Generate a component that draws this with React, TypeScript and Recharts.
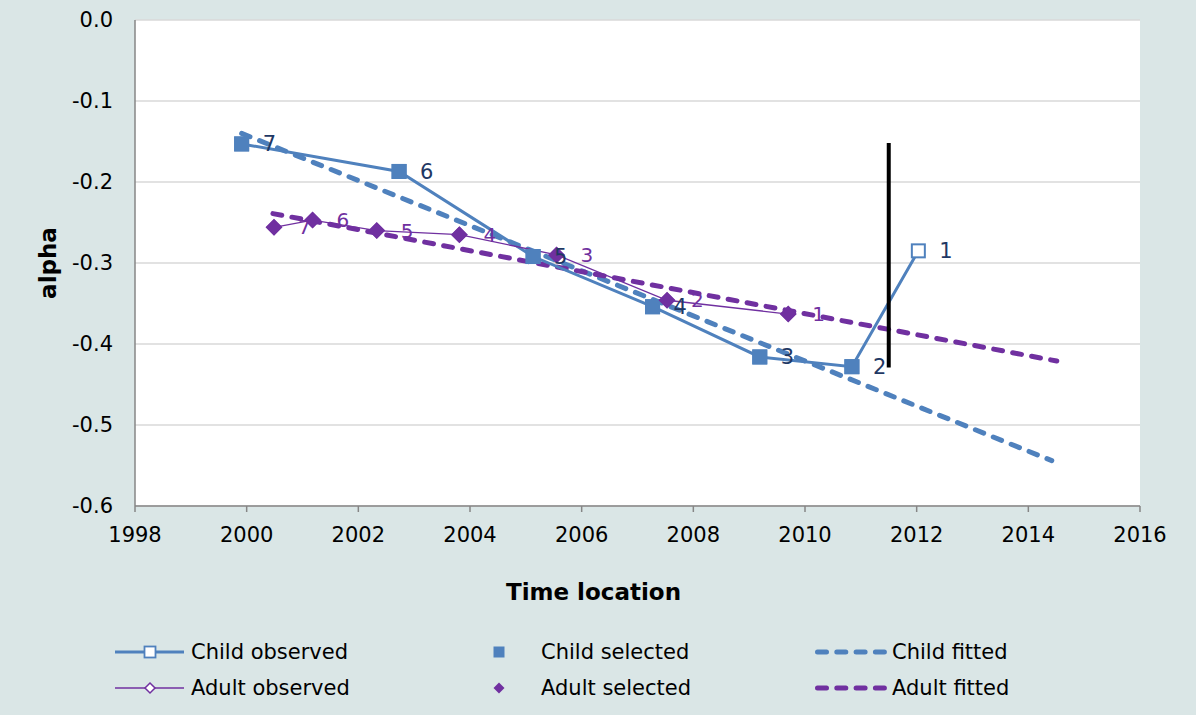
import React from "react";
import {
  LineChart,
  Line,
  XAxis,
  YAxis,
  CartesianGrid,
  LabelList,
} from "recharts";

// point ids, oldest (7) to newest (1)
const pointLabels = ["7", "6", "5", "4", "3", "2", "1"];

const childYears = [1999.91, 2002.73, 2005.13, 2007.27, 2009.19, 2010.84, 2012.03];
const childAlpha = [-0.153, -0.187, -0.292, -0.354, -0.416, -0.428, -0.285];
const childSelected = [true, true, true, true, true, true, false];

const adultYears = [2000.49, 2001.18, 2002.33, 2003.81, 2005.55, 2007.53, 2009.7];
const adultAlpha = [-0.256, -0.247, -0.26, -0.265, -0.29, -0.346, -0.363];
const adultSelected = [true, true, true, true, true, true, true];

const childFitYears = [1999.91, 2014.42];
const childFitAlpha = [-0.14, -0.544];
const adultFitYears = [2000.47, 2014.51];
const adultFitAlpha = [-0.239, -0.421];

const cutoffYears = [2011.5, 2011.5];
const cutoffAlpha = [-0.152, -0.429];

const xTicks = [1998, 2000, 2002, 2004, 2006, 2008, 2010, 2012, 2014, 2016];
const yTicks = [0, -0.1, -0.2, -0.3, -0.4, -0.5, -0.6];

const BLUE = "#4f81bd";
const NAVY = "#1f3864";
const PURPLE = "#7030a0";
const BG = "#dae6e6";
const FONT = "'DejaVu Sans', Verdana, sans-serif";

const toPoints = (xs: number[], ys: number[], labels?: string[]) =>
  xs.map((x, i) => ({ x, y: ys[i], label: labels ? labels[i] : "" }));

const childObserved = toPoints(childYears, childAlpha, pointLabels);
const childSel = childObserved.filter((_, i) => childSelected[i]);
const adultObserved = toPoints(adultYears, adultAlpha, pointLabels);
const adultSel = adultObserved.filter((_, i) => adultSelected[i]);
const childFit = toPoints(childFitYears, childFitAlpha);
const adultFit = toPoints(adultFitYears, adultFitAlpha);
const cutoff = toPoints(cutoffYears, cutoffAlpha);

const squareDot = (size: number, fill: string, stroke: string, sw: number) => (p: any) => (
  <rect
    key={`sq-${p.index}`}
    x={p.cx - size / 2}
    y={p.cy - size / 2}
    width={size}
    height={size}
    fill={fill}
    stroke={stroke}
    strokeWidth={sw}
  />
);

const diamondDot = (r: number, fill: string, stroke: string, sw: number) => (p: any) => (
  <polygon
    key={`dm-${p.index}`}
    points={`${p.cx},${p.cy - r} ${p.cx + r},${p.cy} ${p.cx},${p.cy + r} ${p.cx - r},${p.cy}`}
    fill={fill}
    stroke={stroke}
    strokeWidth={sw}
  />
);

const legendText: React.CSSProperties = { fontSize: 21, color: "#000", whiteSpace: "nowrap" };

function LegendItem({ left, top, icon, text, textLeft }: any) {
  return (
    <div style={{ position: "absolute", left, top: top - 12, height: 24, width: 300 }}>
      <svg width={90} height={24} style={{ position: "absolute", left: 0, top: 0 }}>
        {icon}
      </svg>
      <div style={{ ...legendText, position: "absolute", left: textLeft, top: 0, lineHeight: "24px" }}>
        {text}
      </div>
    </div>
  );
}

export default function App() {
  return (
    <div
      style={{
        position: "absolute",
        left: 0,
        top: 0,
        width: 1196,
        height: 715,
        background: BG,
        fontFamily: FONT,
      }}
    >
      <LineChart
        width={1196}
        height={715}
        margin={{ top: 20, right: 56, bottom: 114, left: 0 }}
        style={{ fontFamily: FONT }}
      >
        <CartesianGrid vertical={false} stroke="#d9d9d9" strokeWidth={1.5} fill="#ffffff" />
        <XAxis
          type="number"
          dataKey="x"
          domain={[1998, 2016]}
          ticks={xTicks}
          allowDataOverflow
          height={95}
          tick={{ fill: "#000", fontSize: 21 }}
          tickSize={6}
          tickMargin={15}
          stroke="#868686"
          strokeWidth={1.5}
          label={{
            value: "Time location",
            position: "insideBottom",
            offset: 1,
            dx: -44,
            style: { fontSize: 23, fontWeight: "bold", fill: "#000" },
          }}
        />
        <YAxis
          type="number"
          dataKey="y"
          domain={[-0.6, 0]}
          ticks={yTicks}
          width={135}
          tickLine={false}
          tickSize={0}
          tickMargin={22}
          tick={{ fill: "#000", fontSize: 21 }}
          tickFormatter={(v: number) => v.toFixed(1)}
          stroke="#868686"
          strokeWidth={1.5}
          label={{
            value: "alpha",
            angle: -90,
            position: "insideLeft",
            offset: 48,
            style: { fontSize: 23, fontWeight: "bold", fill: "#000", textAnchor: "middle" },
          }}
        />

        <Line
          data={childFit}
          dataKey="y"
          stroke={BLUE}
          strokeWidth={5}
          strokeDasharray="9 10.3"
          strokeLinecap="round"
          dot={false}
          isAnimationActive={false}
        />
        <Line
          data={adultFit}
          dataKey="y"
          stroke={PURPLE}
          strokeWidth={5}
          strokeDasharray="9 10.3"
          strokeLinecap="round"
          dot={false}
          isAnimationActive={false}
        />

        <Line
          data={childObserved}
          dataKey="y"
          stroke={BLUE}
          strokeWidth={3}
          dot={squareDot(13, "#ffffff", BLUE, 2)}
          isAnimationActive={false}
        >
          <LabelList dataKey="label" position="right" offset={21} fill={NAVY} fontSize={21} />
        </Line>
        <Line
          data={childSel}
          dataKey="y"
          stroke="none"
          strokeWidth={0}
          dot={squareDot(15, BLUE, BLUE, 0)}
          isAnimationActive={false}
        />

        <Line
          data={adultObserved}
          dataKey="y"
          stroke={PURPLE}
          strokeWidth={1.3}
          dot={diamondDot(7, "#ffffff", PURPLE, 1.5)}
          isAnimationActive={false}
        >
          <LabelList dataKey="label" position="right" offset={24} fill={PURPLE} fontSize={20} />
        </Line>
        <Line
          data={adultSel}
          dataKey="y"
          stroke="none"
          strokeWidth={0}
          dot={diamondDot(8.5, PURPLE, PURPLE, 0)}
          isAnimationActive={false}
        />

        <Line
          data={cutoff}
          dataKey="y"
          stroke="#000000"
          strokeWidth={4}
          dot={false}
          isAnimationActive={false}
        />
      </LineChart>

      <LegendItem
        left={113}
        top={652}
        textLeft={78}
        text="Child observed"
        icon={
          <g>
            <line x1={2} y1={12} x2={71} y2={12} stroke={BLUE} strokeWidth={3} />
            <rect x={31.5} y={6.5} width={11} height={11} fill="#fff" stroke={BLUE} strokeWidth={1.8} />
          </g>
        }
      />
      <LegendItem
        left={113}
        top={688}
        textLeft={78}
        text="Adult observed"
        icon={
          <g>
            <line x1={2} y1={12} x2={71} y2={12} stroke={PURPLE} strokeWidth={1.3} />
            <polygon points="37,7 42,12 37,17 32,12" fill="#fff" stroke={PURPLE} strokeWidth={1.5} />
          </g>
        }
      />
      <LegendItem
        left={463}
        top={652}
        textLeft={78}
        text="Child selected"
        icon={<rect x={30.5} y={6.5} width={11} height={11} fill={BLUE} />}
      />
      <LegendItem
        left={463}
        top={688}
        textLeft={78}
        text="Adult selected"
        icon={<polygon points="36,6.5 41.5,12 36,17.5 30.5,12" fill={PURPLE} />}
      />
      <LegendItem
        left={813}
        top={652}
        textLeft={79}
        text="Child fitted"
        icon={
          <line
            x1={4.5}
            y1={12}
            x2={72}
            y2={12}
            stroke={BLUE}
            strokeWidth={5}
            strokeDasharray="9 10.3"
            strokeLinecap="round"
          />
        }
      />
      <LegendItem
        left={813}
        top={688}
        textLeft={79}
        text="Adult fitted"
        icon={
          <line
            x1={4.5}
            y1={12}
            x2={72}
            y2={12}
            stroke={PURPLE}
            strokeWidth={5}
            strokeDasharray="9 10.3"
            strokeLinecap="round"
          />
        }
      />
    </div>
  );
}
